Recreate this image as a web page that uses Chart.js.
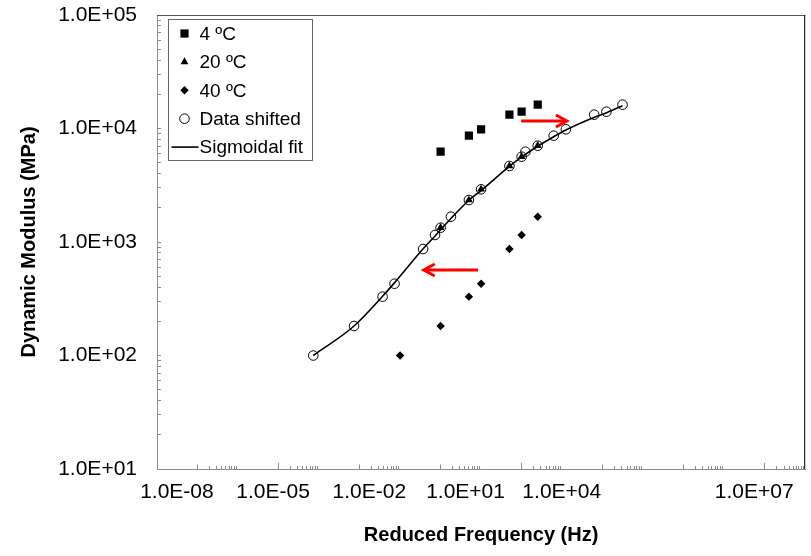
<!DOCTYPE html>
<html><head><meta charset="utf-8">
<script src="https://cdn.jsdelivr.net/npm/chart.js@4.4.1/dist/chart.umd.min.js"></script>
<style>html,body{margin:0;padding:0;background:#fff;}#wrap{width:811px;height:556px;}</style>
</head><body><div id="wrap"><canvas id="c" width="811" height="556"></canvas></div>
<script>
// ---- data ----
const freq4C = [0.1, 0.5, 1, 5, 10, 25];
const modulus4C = [6245, 8643, 9840, 13240, 14060, 16220];
const freq20C = [0.1, 0.5, 1, 5, 10, 25];
const modulus20C = [1336, 2344, 2912, 4674, 5642, 7055];
const freq40C = [0.01, 0.1, 0.5, 1, 5, 10, 25];
const modulus40C = [100, 182, 330, 429, 867, 1153, 1671];
const shiftedFreq = [7.2e-5, 7.3e-4, 3.7e-3, 7.3e-3, 3.7e-2, 7.3e-2, 0.18, 0.1, 0.5, 1, 5, 10, 25, 12.4, 62, 124, 620, 1240, 3100];
const shiftedModulus = [100, 182, 330, 429, 867, 1153, 1671, 1336, 2344, 2912, 4674, 5642, 7055, 6245, 8643, 9840, 13240, 14060, 16220];
const fitFreq = [7.2e-5, 7.3e-4, 3.8e-3, 7.3e-3, 3.8e-2, 7.4e-2, 0.187, 0.51, 1.04, 5.15, 10.3, 25.5, 62, 124, 628, 1259, 3100];
const fitModulus = [100, 182, 336, 438, 880, 1136, 1637, 2344, 2871, 4674, 5642, 7014, 8470, 9700, 12550, 13780, 15880];
const arrowFromFreq = [9.75, 0.843];
const arrowToFreq = [131, 0.0384];
const arrowModulus = [11640, 566];
const seriesLabels = ['4 ºC', '20 ºC', '40 ºC', 'Data shifted', 'Sigmoidal fit'];
const xTickLabels = ['1.0E-08', '1.0E-05', '1.0E-02', '1.0E+01', '1.0E+04', '1.0E+07'];
const xTickSlots = [0, 1, 2, 3, 4, 6];
const yTickValues = [10, 100, 1000, 10000, 100000];
const yTickLabels = ['1.0E+01', '1.0E+02', '1.0E+03', '1.0E+04', '1.0E+05'];
const xAxisTitle = 'Reduced Frequency (Hz)';
const yAxisTitle = 'Dynamic Modulus (MPa)';

// ---- tick mark positions (axis furniture) ----
const oddExps = [-7, -5, -3, -1, 1, 3, 5, 7];
const xMinorTicks = [];
oddExps.forEach(e => { for (let k = 2; k <= 9; k++) xMinorTicks.push(k * Math.pow(10, e)); });
const xMajorTicks = [1e-5, 1e1, 1e7];
const xMidTicks = oddExps.map(e => Math.pow(10, e)).filter(v => !xMajorTicks.some(m => Math.abs(Math.log10(m) - Math.log10(v)) < 1e-6));
const yAllTicks = [];
[1, 2, 3, 4].forEach(e => { for (let k = 1; k <= 9; k++) yAllTicks.push(k * Math.pow(10, e)); });
yAllTicks.push(1e5);

const FONT = "'Liberation Sans', Arial, sans-serif";
const AXIS_GRAY = '#8c8c8c';

function pts(xs, ys) { return xs.map((x, i) => ({x: x, y: ys[i]})); }
function setTicks(vals) { return scale => { scale.ticks = vals.map(v => ({value: v})); }; }
function noPad(s) { s.paddingTop = 0; s.paddingBottom = 0; s.paddingLeft = 0; s.paddingRight = 0; }
function zeroHeight(scale) { scale.height = 0; noPad(scale); }

const tickAxisBase = {
  type: 'logarithmic', position: 'bottom', min: 1e-8, max: 1e8, display: true,
  ticks: {display: false, autoSkip: false},
  afterFit: zeroHeight
};

const arrowsPlugin = {
  id: 'shiftArrows',
  afterDatasetsDraw(chart) {
    const ctx = chart.ctx, xs = chart.scales.x, ys = chart.scales.y;
    ctx.save();
    ctx.strokeStyle = '#ff0000';
    ctx.lineWidth = 3;
    ctx.lineCap = 'butt';
    ctx.lineJoin = 'miter';
    for (let i = 0; i < arrowFromFreq.length; i++) {
      const x1 = xs.getPixelForValue(arrowFromFreq[i]);
      const x2 = xs.getPixelForValue(arrowToFreq[i]);
      const y = ys.getPixelForValue(arrowModulus[i]);
      const dir = x2 > x1 ? 1 : -1;
      ctx.beginPath();
      ctx.moveTo(x1, y); ctx.lineTo(x2 - dir * 1, y);
      ctx.stroke();
      ctx.beginPath();
      ctx.moveTo(x2 - dir * 11, y - 6);
      ctx.lineTo(x2, y);
      ctx.lineTo(x2 - dir * 11, y + 6);
      ctx.stroke();
    }
    ctx.restore();
  }
};

const framePlugin = {
  id: 'frame',
  beforeDatasetsDraw(chart) {
    const {ctx, chartArea: a} = chart;
    ctx.save();
    ctx.lineWidth = 1;
    ctx.strokeStyle = '#555';
    ctx.beginPath(); ctx.moveTo(a.left, a.top + 0.5); ctx.lineTo(a.right, a.top + 0.5); ctx.stroke();
    ctx.strokeStyle = '#000';
    ctx.beginPath(); ctx.moveTo(a.right - 0.5, a.top); ctx.lineTo(a.right - 0.5, a.bottom); ctx.stroke();
    ctx.restore();
  }
};

const legendPlugin = {
  id: 'boxLegend',
  afterDraw(chart) {
    const {ctx, chartArea: a} = chart;
    const bx = a.left + 11.5, by = a.top + 4.5, bw = 144, bh = 141;
    ctx.save();
    ctx.fillStyle = '#fff';
    ctx.fillRect(bx, by, bw, bh);
    ctx.strokeStyle = '#666';
    ctx.lineWidth = 1;
    ctx.strokeRect(bx, by, bw, bh);
    const rowH = 28.4;
    chart.data.datasets.forEach((ds, i) => {
      const cy = by + 14 + i * rowH;
      const mx = bx + 16;
      if (ds.showLine) {
        ctx.strokeStyle = ds.borderColor;
        ctx.lineWidth = ds.borderWidth;
        ctx.beginPath(); ctx.moveTo(bx + 3, cy); ctx.lineTo(bx + 30, cy); ctx.stroke();
      } else {
        ctx.fillStyle = ds.backgroundColor;
        ctx.strokeStyle = ds.borderColor;
        ctx.lineWidth = ds.borderWidth;
        Chart.helpers.drawPoint(ctx, {pointStyle: ds.pointStyle, radius: ds.pointRadius, rotation: 0, borderWidth: ds.borderWidth}, mx, cy);
      }
      ctx.fillStyle = '#000';
      ctx.font = '19px ' + FONT;
      ctx.textBaseline = 'middle';
      ctx.textAlign = 'left';
      ctx.fillText(ds.label, bx + 31, cy + 1);
    });
    ctx.restore();
  }
};

new Chart(document.getElementById('c'), {
  type: 'scatter',
  data: {
    datasets: [
      {label: seriesLabels[0], data: pts(freq4C, modulus4C), pointStyle: 'rect', pointRadius: 5.8, pointHoverRadius: 5.8,
       backgroundColor: '#000', borderColor: '#000', borderWidth: 0, showLine: false, order: 1},
      {label: seriesLabels[1], data: pts(freq20C, modulus20C), pointStyle: 'triangle', pointRadius: 4.6, pointHoverRadius: 4.6,
       backgroundColor: '#000', borderColor: '#000', borderWidth: 0, showLine: false, order: 2},
      {label: seriesLabels[2], data: pts(freq40C, modulus40C), pointStyle: 'rectRot', pointRadius: 4.2, pointHoverRadius: 4.2,
       backgroundColor: '#000', borderColor: '#000', borderWidth: 0, showLine: false, order: 3},
      {label: seriesLabels[3], data: pts(shiftedFreq, shiftedModulus), pointStyle: 'circle', pointRadius: 4.8, pointHoverRadius: 4.8,
       backgroundColor: 'rgba(255,255,255,0)', borderColor: '#000', borderWidth: 1, showLine: false, order: 4},
      {label: seriesLabels[4], data: pts(fitFreq, fitModulus), showLine: true, borderColor: '#000', borderWidth: 1.6,
       pointRadius: 0, pointHoverRadius: 0, cubicInterpolationMode: 'monotone', fill: false, backgroundColor: '#000', order: 5}
    ]
  },
  options: {
    responsive: false, animation: false, devicePixelRatio: 1,
    layout: {padding: {left: 0, right: 3, top: 15, bottom: 0}},
    plugins: {legend: {display: false}, tooltip: {enabled: false}},
    scales: {
      x: Object.assign({}, tickAxisBase, {
        weight: 0,
        afterBuildTicks: setTicks(xMinorTicks),
        grid: {display: true, drawOnChartArea: false, drawTicks: true, tickLength: -3, tickColor: AXIS_GRAY, tickWidth: 1},
        border: {display: true, color: AXIS_GRAY, width: 1}
      }),
      xMid: Object.assign({}, tickAxisBase, {
        weight: 1,
        afterBuildTicks: setTicks(xMidTicks),
        grid: {display: true, drawOnChartArea: false, drawTicks: true, tickLength: -4.5, tickColor: AXIS_GRAY, tickWidth: 1},
        border: {display: false}
      }),
      xMaj: Object.assign({}, tickAxisBase, {
        weight: 2,
        afterBuildTicks: setTicks(xMajorTicks),
        grid: {display: true, drawOnChartArea: false, drawTicks: true, tickLength: -6, tickColor: AXIS_GRAY, tickWidth: 1},
        border: {display: false}
      }),
      xLabels: {
        type: 'linear', position: 'bottom', weight: 10, display: true,
        min: -0.207, max: 6.53,
        afterBuildTicks: setTicks(xTickSlots),
        ticks: {autoSkip: false, maxRotation: 0, padding: 11, color: '#000', font: {family: FONT, size: 21},
                callback: (v) => { const i = xTickSlots.indexOf(v); return i >= 0 ? xTickLabels[i] : ''; }},
        grid: {display: false, drawTicks: false},
        border: {display: false},
        title: {display: true, text: xAxisTitle, color: '#000', font: {family: FONT, size: 20, weight: 'bold'}, padding: {top: 0, bottom: 9}},
        afterFit: (s) => { s.height = 87; noPad(s); }
      },
      y: {
        type: 'logarithmic', position: 'left', min: 10, max: 100000,
        afterBuildTicks: setTicks(yAllTicks),
        ticks: {autoSkip: false, padding: 24, color: '#000', font: {family: FONT, size: 21},
                callback: (v) => { const i = yTickValues.findIndex(t => Math.abs(t - v) < 1e-6 * t); return i >= 0 ? yTickLabels[i] : ''; }},
        grid: {display: true, drawOnChartArea: false, drawTicks: true, tickLength: -4, tickColor: AXIS_GRAY, tickWidth: 1},
        border: {display: true, color: AXIS_GRAY, width: 1},
        title: {display: true, text: yAxisTitle, color: '#000', font: {family: FONT, size: 20, weight: 'bold'}, padding: {top: 17, bottom: 0}},
        afterFit: (s) => { s.width = 157; noPad(s); }
      }
    }
  },
  plugins: [framePlugin, arrowsPlugin, legendPlugin]
});
</script>
</body></html>
